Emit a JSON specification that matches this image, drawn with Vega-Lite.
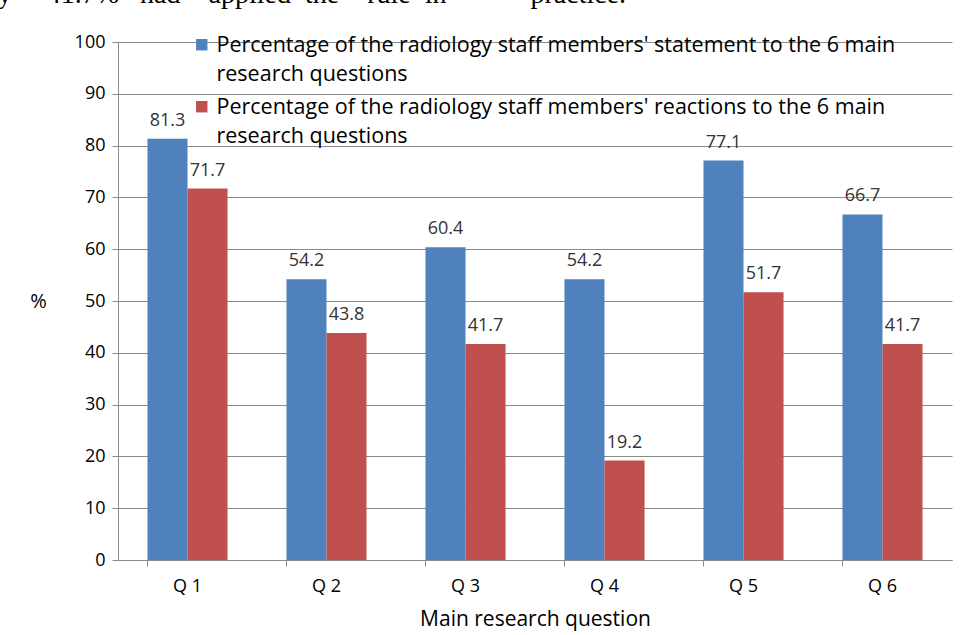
{
  "$schema": "https://vega.github.io/schema/vega-lite/v6.json",
  "autosize": "none",
  "width": 834,
  "height": 518,
  "padding": {"left": 118, "top": 42, "right": 19, "bottom": 75},
  "background": "white",
  "title": {
    "text": "ly\u00a0\u00a0\u00a0\u00a0\u00a041.7%\u00a0\u00a0\u00a0had\u00a0\u00a0\u00a0\u00a0applied\u00a0\u00a0the\u00a0\u00a0\u00a0\u00a0rule\u00a0\u00a0in\u00a0\u00a0\u00a0\u00a0\u00a0\u00a0\u00a0\u00a0\u00a0\u00a0\u00a0\u00a0practice.",
    "anchor": "start", "frame": "group", "dx": -128, "offset": 12, "dy": 19, "baseline": "alphabetic",
    "font": "Liberation Serif", "fontSize": 28, "fontWeight": "normal", "color": "#000000"
  },
  "data": {
    "values": [
      {"q": "Q 1", "series": "Percentage of the radiology staff members' statement to the 6 main research questions", "value": 81.3},
      {"q": "Q 1", "series": "Percentage of the radiology staff members' reactions to the 6 main research questions", "value": 71.7},
      {"q": "Q 2", "series": "Percentage of the radiology staff members' statement to the 6 main research questions", "value": 54.2},
      {"q": "Q 2", "series": "Percentage of the radiology staff members' reactions to the 6 main research questions", "value": 43.8},
      {"q": "Q 3", "series": "Percentage of the radiology staff members' statement to the 6 main research questions", "value": 60.4},
      {"q": "Q 3", "series": "Percentage of the radiology staff members' reactions to the 6 main research questions", "value": 41.7},
      {"q": "Q 4", "series": "Percentage of the radiology staff members' statement to the 6 main research questions", "value": 54.2},
      {"q": "Q 4", "series": "Percentage of the radiology staff members' reactions to the 6 main research questions", "value": 19.2},
      {"q": "Q 5", "series": "Percentage of the radiology staff members' statement to the 6 main research questions", "value": 77.1},
      {"q": "Q 5", "series": "Percentage of the radiology staff members' reactions to the 6 main research questions", "value": 51.7},
      {"q": "Q 6", "series": "Percentage of the radiology staff members' statement to the 6 main research questions", "value": 66.7},
      {"q": "Q 6", "series": "Percentage of the radiology staff members' reactions to the 6 main research questions", "value": 41.7}
    ]
  },
  "encoding": {
    "x": {
      "field": "q", "type": "nominal", "sort": null,
      "scale": {"paddingInner": 0.424, "paddingOuter": 0.212},
      "axis": {
        "title": "Main research question", "labelAngle": 0, "bandPosition": 0,
        "labelFontSize": 18, "labelPadding": 11, "titleFontSize": 21, "titlePadding": 13,
        "tickSize": 6, "grid": false
      }
    },
    "xOffset": {
      "field": "series", "type": "nominal", "sort": null,
      "scale": {"paddingInner": 0, "paddingOuter": 0}
    },
    "y": {
      "field": "value", "type": "quantitative",
      "scale": {"domain": [0, 100]},
      "axis": {
        "title": "%", "values": [0,10,20,30,40,50,60,70,80,90,100],
        "labelFontSize": 18, "labelPadding": 7, "tickSize": 6,
        "titleAngle": 0, "titleFontSize": 20, "titleFontWeight": "normal",
        "titleX": -80, "titleY": 259, "titleAlign": "center", "titleBaseline": "middle"
      }
    }
  },
  "layer": [
    {
      "mark": {"type": "bar"},
      "encoding": {
        "color": {
          "field": "series", "type": "nominal", "sort": null,
          "scale": {"range": ["#4F81BD", "#C0504D"]},
          "legend": {
            "title": null, "orient": "none", "legendX": 73, "legendY": -18,
            "symbolType": "M-1,0.75H1V2.75H-1Z", "symbolSize": 130, "symbolStrokeWidth": 0,
            "labelFontSize": 21.5, "labelLimit": 900, "labelOffset": 4,
            "rowPadding": 0, "labelBaseline": "top",
            "labelExpr": "indexof(datum.label, 'statement') >= 0 ? ['Percentage of the radiology staff members\\' statement to the 6 main', 'research questions'] : ['Percentage of the radiology staff members\\' reactions to the 6 main', 'research questions']"
          }
        }
      }
    },
    {
      "mark": {"type": "text", "baseline": "bottom", "dy": -9, "fontSize": 18, "color": "#333333"},
      "encoding": {
        "text": {"field": "value", "type": "quantitative", "format": ".1f"}
      }
    }
  ],
  "config": {
    "font": "Open Sans",
    "view": {"stroke": null},
    "axis": {
      "domainColor": "#8a8a8a", "tickColor": "#8a8a8a", "gridColor": "#8a8a8a",
      "labelColor": "#000000", "titleColor": "#000000", "titleFontWeight": "normal",
      "labelFont": "Open Sans", "titleFont": "Open Sans"
    },
    "legend": {"labelColor": "#000000", "labelFont": "Open Sans"},
    "style": {"guide-label": {"lineHeight": 29}}
  }
}
